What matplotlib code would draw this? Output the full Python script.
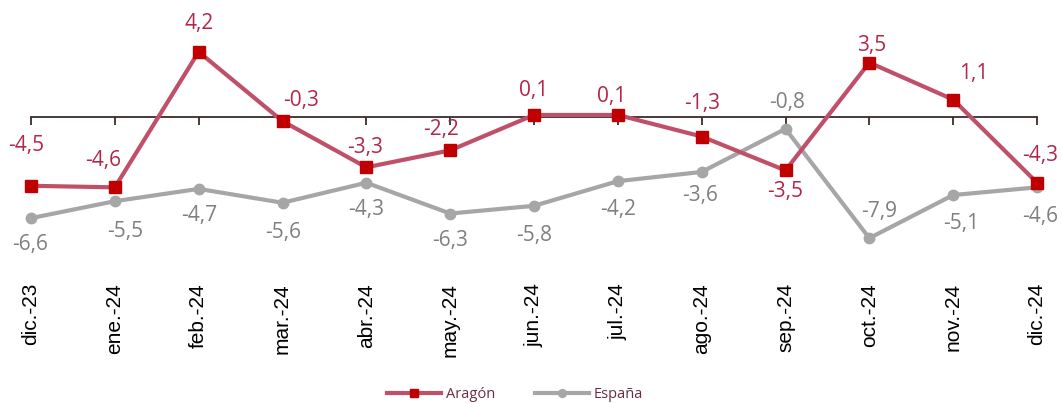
import matplotlib.pyplot as plt
from matplotlib.transforms import blended_transform_factory

meses = ["dic.-23", "ene.-24", "feb.-24", "mar.-24", "abr.-24", "may.-24", "jun.-24",
         "jul.-24", "ago.-24", "sep.-24", "oct.-24", "nov.-24", "dic.-24"]
aragon = [-4.5, -4.6, 4.2, -0.3, -3.3, -2.2, 0.1, 0.1, -1.3, -3.5, 3.5, 1.1, -4.3]
espana = [-6.6, -5.5, -4.7, -5.6, -4.3, -6.3, -5.8, -4.2, -3.6, -0.8, -7.9, -5.1, -4.6]

# desplazamiento de las etiquetas (pixeles)
off_ar = [(-5, 40), (-12, 27), (0, 28), (19, 21), (-1, 20), (-9, 21), (0, 24), (-6, 18),
          (0, 33), (0, -21), (2, 17), (21, 26), (3, 27)]
off_es = [(-1, -26), (10, -30), (1, -27), (1, -30), (0, -27), (0, -27), (0, -30), (0, -28),
          (-2, -24), (2, 26), (10, 27), (8, -28), (3, -29)]

c_ar_line = "#c0506a"
c_ar_mark = "#c00000"
c_ar_txt = "#b3264a"
c_es = "#a6a6a6"
c_es_txt = "#7f7f7f"

fig = plt.figure(figsize=(10.62, 4.03), dpi=100)
ax = fig.add_axes([31/1062, 1 - 255/403, (1037 - 31)/1062, (255 - 20)/403])
x = list(range(len(meses)))

ax.plot(x, espana, color=c_es, lw=3, marker="o", ms=7.5, clip_on=False, zorder=3, label="España")
ax.plot(x, aragon, color=c_ar_line, lw=3, marker="s", ms=8, mfc=c_ar_mark, mec=c_ar_mark,
        clip_on=False, zorder=4, label="Aragón")

for i in x:
    ax.annotate(f"{aragon[i]:.1f}".replace(".", ","), (i, aragon[i]), xytext=off_ar[i],
                textcoords="offset pixels", ha="center", va="center", fontsize=15,
                color=c_ar_txt, family="Open Sans", annotation_clip=False)
    ax.annotate(f"{espana[i]:.1f}".replace(".", ","), (i, espana[i]), xytext=off_es[i],
                textcoords="offset pixels", ha="center", va="center", fontsize=15,
                color=c_es_txt, family="Open Sans", annotation_clip=False)

ax.set_xlim(0, 12)
ax.set_ylim(-(255 - 116.5)/15.4, (116.5 - 20)/15.4)
for s in ["top", "right", "left"]:
    ax.spines[s].set_visible(False)
ax.spines["bottom"].set_position(("data", 0))
ax.spines["bottom"].set_color("#3b2b2b")
ax.spines["bottom"].set_linewidth(1.3)
ax.spines["bottom"].set_zorder(2)
ax.set_xticks(x)
ax.set_xticklabels([])
ax.tick_params(axis="x", direction="out", length=6, width=1.3, color="#3b2b2b")
ax.set_yticks([])
ax.patch.set_visible(False)

tr = blended_transform_factory(ax.transData, fig.transFigure)
for i, m in enumerate(meses):
    ax.text(i, 1 - 283/403, m, transform=tr, rotation=90, ha="center", va="top",
            fontsize=15, family="Liberation Sans", color="black")

h, l = ax.get_legend_handles_labels()
leg = fig.legend(h[::-1], l[::-1], loc="center", bbox_to_anchor=(0.5 - 16/1062, 1 - 395/403),
                 ncol=2, frameon=False, handlelength=3.7, handletextpad=0.35, columnspacing=2.7,
                 markerscale=0.75, prop={"family": "Open Sans", "size": 10.5})
for t in leg.get_texts():
    t.set_color("#6b2d3f")

fig.savefig("out.png", dpi=100)
